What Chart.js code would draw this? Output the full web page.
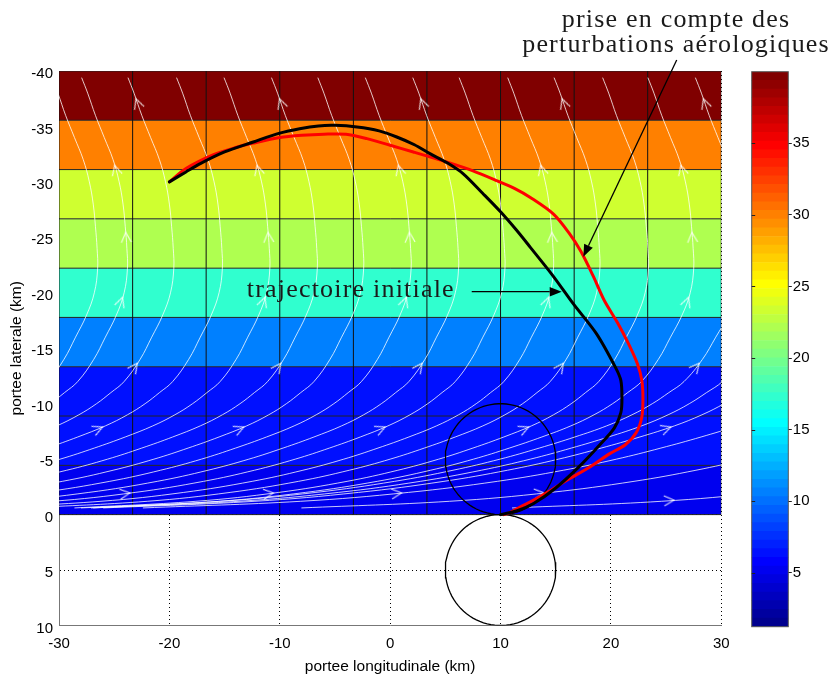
<!DOCTYPE html>
<html>
<head>
<meta charset="utf-8">
<script src="https://cdn.jsdelivr.net/npm/chart.js@4.4.0/dist/chart.umd.min.js"></script>
<style>
html,body{margin:0;padding:0;background:#fff;}
#wrap{position:relative;width:836px;height:681px;}
canvas{position:absolute;top:0;}
</style>
</head>
<body>
<div id="wrap">
<canvas id="main" width="836" height="681" style="left:0"></canvas>
<canvas id="cbar" width="96" height="681" style="left:740px"></canvas>
</div>
<script>
// ---------------- data ----------------
const xTicks = [-30, -20, -10, 0, 10, 20, 30];
const yTicks = [-40, -35, -30, -25, -20, -15, -10, -5, 0, 5, 10];
const colorbarTicks = [5, 10, 15, 20, 25, 30, 35];
const colorLimits = [1.23, 40];

// pcolor cells (9 x 9, value depends only on lateral range)
const columnEdges = [-30, -23.33, -16.67, -10, -3.33, 3.33, 10, 16.67, 23.33, 30];
const bandEdges = [0, -4.44, -8.89, -13.33, -17.78, -22.22, -26.67, -31.11, -35.56, -40];
const bandValues = [5.1, 6.4, 6.4, 10.6, 17.3, 22.1, 23.3, 30.0, 39.8];

// streamline shape (offset from its vertical point) and per-line offsets / stretch
const streamBaseY  = [-39.4, -38, -36, -34, -32, -30, -28, -26, -24, -22.2, -20, -18, -16, -14, -12, -11, -10, -9, -8, -7, -6, -5, -4, -3, -2, -1.2, -0.6];
const streamBaseDX = [-4.15, -3.6, -2.9, -2.1, -1.3, -0.75, -0.4, -0.2, -0.05, 0, -0.3, -1.0, -2.0, -3.05, -4.5, -5.7, -7.0, -8.6, -10.6, -13.1, -15.9, -19.0, -22.7, -27.3, -33.5, -41, -52];
const streamOffsets = [-26.5, -23.8, -19.6, -15.2, -10.9, -6.6, -2.4, 1.9, 6.2, 10.4, 14.8, 19.0, 23.4, 27.5, 31.8, 35.5, 39, 45.2, 55.4, 75];
const streamStretch = [1, 1, 1, 1, 1, 1, 1, 1, 1, 1, 1, 1, 1, 1.05, 1.15, 1.2, 1.25, 1.3, 1.22, 1.23];

// flow arrows: streamline index + lateral position
const arrowLine = [2,5,8,11,14, 1,4,7,10,13, 1,4,7,10,13, 1,4,7,10,13, 2,5,8,11,14, 3,6,9,12,16, 9,12,17,18,19];
const arrowY = [-37.5,-37.5,-37.5,-37.5,-37.5, -31.5,-31.5,-31.5,-31.5,-31.5, -25.45,-25.45,-25.45,-25.45,-25.45,
                -19.6,-19.6,-19.6,-19.6,-19.6, -13.65,-13.65,-13.65,-13.65,-13.65, -7.9,-7.9,-7.9,-7.9,-7.9,
                -1.95,-1.95,-1.95,-1.95,-1.3];

// trajectories
const initialX = [-20, -18.5, -17.2, -15, -12.4, -10, -8.2, -6.5, -5, -3, -1, 0.6, 2.2, 3.6, 5.2, 6.6, 8.4, 10, 11.4, 12.7, 14.7, 16.6, 18.7, 20.4, 20.9, 21.0, 20.9, 20.3, 19.0, 17.1, 15.0, 13.0, 11.5, 10.0];
const initialY = [-30, -30.9, -31.65, -32.7, -33.6, -34.4, -34.8, -35.05, -35.1, -34.95, -34.6, -34.05, -33.35, -32.55, -31.7, -30.75, -28.95, -27.3, -25.7, -24.1, -21.6, -19.0, -16.3, -13.3, -12.1, -10.5, -9.2, -7.8, -6.3, -4.3, -2.4, -1.0, -0.35, 0];
const perturbedX = [-20, -18.5, -16, -14, -12.4, -10, -8, -6, -4, -2.1, 0, 2.1, 5.1, 7.5, 9.7, 11.3, 12.7, 14.8, 16.2, 17.3, 18.4, 19.4, 20.6, 21.6, 22.4, 22.8, 22.9, 22.8, 22.3, 21.3, 19.9, 18.1, 16.0, 14.4, 13.0, 11.8, 10.9, 10.3];
const perturbedY = [-30, -31.2, -32.45, -33.1, -33.5, -34.0, -34.2, -34.3, -34.3, -33.9, -33.3, -32.7, -31.8, -31.0, -30.1, -29.4, -28.6, -27.1, -25.4, -23.7, -21.5, -19.3, -17.3, -15.4, -13.6, -12.1, -10.5, -8.8, -7.4, -6.3, -5.5, -4.3, -3.1, -2.1, -1.3, -0.7, -0.2, 0];

// circles
const circleCX = [10, 10];
const circleCY = [-5, 5];
const circleR  = [5, 5];

// annotations
const noteText = ['trajectoire initiale', 'prise en compte des', 'perturbations aérologiques'];
const noteX = [-12.99, 25.9, 25.9];
const noteY = [-19.62, -43.99, -41.74];
const noteAlign = ['left', 'center', 'center'];
const arrowFromX = [7.39, 25.96];
const arrowFromY = [-20.1, -40.99];
const arrowToX = [15.54, 17.5];
const arrowToY = [-20.1, -23.26];

// ---------------- helpers ----------------
const sansFont = "'Liberation Sans', Arial, Helvetica, sans-serif";
const serifFont = "'Liberation Serif', 'Times New Roman', serif";

function jetRow(k) {
  const c = t => Math.round(255 * Math.max(0, Math.min(1, t)));
  const r = c(Math.min((k - 24) / 16, (72 - k) / 16));
  const g = c(Math.min((k - 8) / 16, (56 - k) / 16));
  const b = c(Math.min((k + 8) / 16, (40 - k) / 16));
  return 'rgb(' + r + ',' + g + ',' + b + ')';
}
function jetColor(v) {
  const [lo, hi] = colorLimits;
  let k = Math.floor((v - lo) / (hi - lo) * 64) + 1;
  k = Math.max(1, Math.min(64, k));
  return jetRow(k);
}
function baseDX(y) {
  const Y = streamBaseY, D = streamBaseDX;
  if (y <= Y[0]) return D[0];
  for (let i = 0; i < Y.length - 1; i++) {
    if (y <= Y[i + 1]) { const t = (y - Y[i]) / (Y[i + 1] - Y[i]); return D[i] + t * (D[i + 1] - D[i]); }
  }
  return D[D.length - 1];
}
function streamXAt(k, y) {
  return streamOffsets[k] + (y > -22.2 ? streamStretch[k] : 1) * baseDX(y);
}

function lineDs(data, color, width, order, extra) {
  return Object.assign({ type: 'line', data, borderColor: color, borderWidth: width, pointRadius: 0, fill: false, tension: 0, order }, extra || {});
}

// chevron arrow marker
const chevron = document.createElement('canvas');
chevron.width = 22; chevron.height = 18;
(function () {
  const c = chevron.getContext('2d');
  c.strokeStyle = 'rgba(255,255,255,0.85)';
  c.lineWidth = 1.1;
  c.beginPath(); c.moveTo(1, 4); c.lineTo(11, 9); c.lineTo(1, 14); c.stroke();
})();

// ---------------- datasets ----------------
const datasets = [];
for (let i = 0; i < bandValues.length; i++) {
  datasets.push(lineDs(
    [{ x: columnEdges[0], y: bandEdges[i + 1] }, { x: columnEdges[columnEdges.length - 1], y: bandEdges[i + 1] }],
    'rgba(0,0,0,0)', 0, 100,
    { fill: { value: bandEdges[i] }, backgroundColor: jetColor(bandValues[i]) }));
}
for (const x of columnEdges) {
  datasets.push(lineDs([{ x, y: bandEdges[0] }, { x, y: bandEdges[bandEdges.length - 1] }], '#111', 1, 90));
}
for (const y of bandEdges) {
  datasets.push(lineDs([{ x: columnEdges[0], y }, { x: columnEdges[columnEdges.length - 1], y }], '#222', 1, 90));
}
for (let k = 0; k < streamOffsets.length; k++) {
  const pts = streamBaseY.map((y, i) => ({ x: streamOffsets[k] + (y > -22.2 ? streamStretch[k] : 1) * streamBaseDX[i], y }));
  datasets.push(lineDs(pts, 'rgba(255,255,255,0.78)', 1, 80, { tension: 0.4 }));
}
datasets.push({
  type: 'line', order: 75, showLine: false,
  data: arrowLine.map((k, i) => ({ x: streamXAt(k, arrowY[i]), y: arrowY[i] })),
  pointStyle: chevron, pointRadius: 6,
  pointRotation: (c) => {
    const i = c.dataIndex;
    if (i === undefined || !c.chart.scales.x) return 0;
    const k = arrowLine[i], y0 = arrowY[i];
    const xs = c.chart.scales.x, ys = c.chart.scales.y;
    const dx = xs.getPixelForValue(streamXAt(k, y0 - 0.3)) - xs.getPixelForValue(streamXAt(k, y0 + 0.3));
    const dy = ys.getPixelForValue(y0 - 0.3) - ys.getPixelForValue(y0 + 0.3);
    return Math.atan2(dy, dx) * 180 / Math.PI;
  }
});
for (let i = 0; i < circleCX.length; i++) {
  const pts = [];
  for (let a = 0; a <= 90; a++) {
    const t = a * Math.PI / 45;
    pts.push({ x: circleCX[i] + circleR[i] * Math.cos(t), y: circleCY[i] + circleR[i] * Math.sin(t) });
  }
  datasets.push(lineDs(pts, '#000', 1.3, 60));
}
datasets.push(lineDs(perturbedX.map((x, i) => ({ x, y: perturbedY[i] })), '#f00', 3, 50, { tension: 0.3, borderCapStyle: 'round', borderJoinStyle: 'round' }));
datasets.push(lineDs(initialX.map((x, i) => ({ x, y: initialY[i] })), '#000', 3, 40, { tension: 0.3, borderCapStyle: 'round', borderJoinStyle: 'round' }));

// ---------------- annotation plugin ----------------
const notesPlugin = {
  id: 'notes',
  afterDraw(chart) {
    const { ctx } = chart; const xs = chart.scales.x, ys = chart.scales.y;
    ctx.save();
    ctx.fillStyle = '#1a1a1a';
    ctx.font = '26px ' + serifFont;
    if ('letterSpacing' in ctx) ctx.letterSpacing = '1.2px';
    ctx.textBaseline = 'alphabetic';
    noteText.forEach((t, i) => {
      ctx.textAlign = noteAlign[i];
      ctx.fillText(t, xs.getPixelForValue(noteX[i]), ys.getPixelForValue(noteY[i]));
    });
    ctx.strokeStyle = '#000'; ctx.fillStyle = '#000'; ctx.lineWidth = 1.3;
    for (let i = 0; i < arrowFromX.length; i++) {
      const x0 = xs.getPixelForValue(arrowFromX[i]), y0 = ys.getPixelForValue(arrowFromY[i]);
      const x1 = xs.getPixelForValue(arrowToX[i]), y1 = ys.getPixelForValue(arrowToY[i]);
      const ang = Math.atan2(y1 - y0, x1 - x0), hl = 12, hw = 4.8;
      const bx = x1 - hl * Math.cos(ang), by = y1 - hl * Math.sin(ang);
      ctx.beginPath(); ctx.moveTo(x0, y0); ctx.lineTo(bx, by); ctx.stroke();
      ctx.beginPath();
      ctx.moveTo(x1, y1);
      ctx.lineTo(bx + hw * Math.sin(ang), by - hw * Math.cos(ang));
      ctx.lineTo(bx - hw * Math.sin(ang), by + hw * Math.cos(ang));
      ctx.closePath(); ctx.fill();
    }
    ctx.restore();
  }
};

// ---------------- main chart ----------------
new Chart(document.getElementById('main'), {
  type: 'line',
  data: { datasets },
  options: {
    responsive: false, animation: false, devicePixelRatio: 1,
    layout: { padding: { left: 0, top: 71, right: 114.7, bottom: 0 } },
    plugins: { legend: { display: false }, tooltip: { enabled: false } },
    scales: {
      x: {
        type: 'linear', min: -30, max: 30,
        afterBuildTicks: s => { s.ticks = xTicks.map(v => ({ value: v })); },
        afterFit: s => { s.height = 55.5; },
        ticks: { font: { family: sansFont, size: 15 }, color: '#000', padding: 9, maxRotation: 0, autoSkip: false },
        grid: { color: '#000', lineWidth: 1, drawTicks: false },
        border: { display: true, color: '#777', width: 1, dash: [1, 3] },
        title: { display: true, text: 'portee longitudinale (km)', color: '#000', font: { family: sansFont, size: 15.5 }, padding: { top: 0, bottom: 4.8 } }
      },
      y: {
        type: 'linear', reverse: true, min: -40, max: 10,
        afterBuildTicks: s => { s.ticks = yTicks.map(v => ({ value: v })); },
        afterFit: s => { s.width = 59; },
        ticks: { font: { family: sansFont, size: 15 }, color: '#000', padding: 6, labelOffset: 3, autoSkip: false },
        grid: { color: '#000', lineWidth: 1, drawTicks: false },
        border: { display: true, color: '#777', width: 1, dash: [1, 3] },
        title: { display: true, text: 'portee laterale (km)', color: '#000', font: { family: sansFont, size: 15.5 }, padding: { top: 7.6, bottom: 0 } }
      }
    }
  },
  plugins: [notesPlugin]
});

// ---------------- colorbar ----------------
const cbarDatasets = [];
const cStep = (colorLimits[1] - colorLimits[0]) / 64;
for (let k = 1; k <= 64; k++) {
  cbarDatasets.push({
    data: [[colorLimits[0] + (k - 1) * cStep, colorLimits[0] + k * cStep]],
    backgroundColor: jetRow(k), borderWidth: 0, grouped: false,
    barPercentage: 1, categoryPercentage: 1
  });
}
const boxPlugin = {
  id: 'cbox',
  afterDraw(chart) {
    const { ctx, chartArea: a } = chart; const ys = chart.scales.y;
    ctx.save(); ctx.strokeStyle = '#555'; ctx.lineWidth = 1;
    ctx.strokeRect(a.left, a.top, a.right - a.left, a.bottom - a.top);
    ctx.strokeStyle = '#222';
    ctx.beginPath();
    for (const v of colorbarTicks) {
      const py = Math.round(ys.getPixelForValue(v)) + 0.5;
      ctx.moveTo(a.left, py); ctx.lineTo(a.left + 3.5, py);
    }
    ctx.stroke();
    ctx.restore();
  }
};
new Chart(document.getElementById('cbar'), {
  type: 'bar',
  data: { labels: [''], datasets: cbarDatasets },
  options: {
    responsive: false, animation: false, devicePixelRatio: 1,
    layout: { padding: { left: 11.7, top: 71.7, right: 0, bottom: 54.3 } },
    plugins: { legend: { display: false }, tooltip: { enabled: false } },
    scales: {
      x: { display: false },
      y: {
        position: 'right', min: colorLimits[0], max: colorLimits[1],
        afterBuildTicks: s => { s.ticks = colorbarTicks.map(v => ({ value: v })); },
        afterFit: s => { s.width = 47.7; },
        ticks: { font: { family: sansFont, size: 15 }, color: '#000', padding: 1 },
        grid: { drawOnChartArea: false, drawTicks: true, tickLength: 3.5, color: '#222' },
        border: { display: false }
      }
    }
  },
  plugins: [boxPlugin]
});
</script>
</body>
</html>
